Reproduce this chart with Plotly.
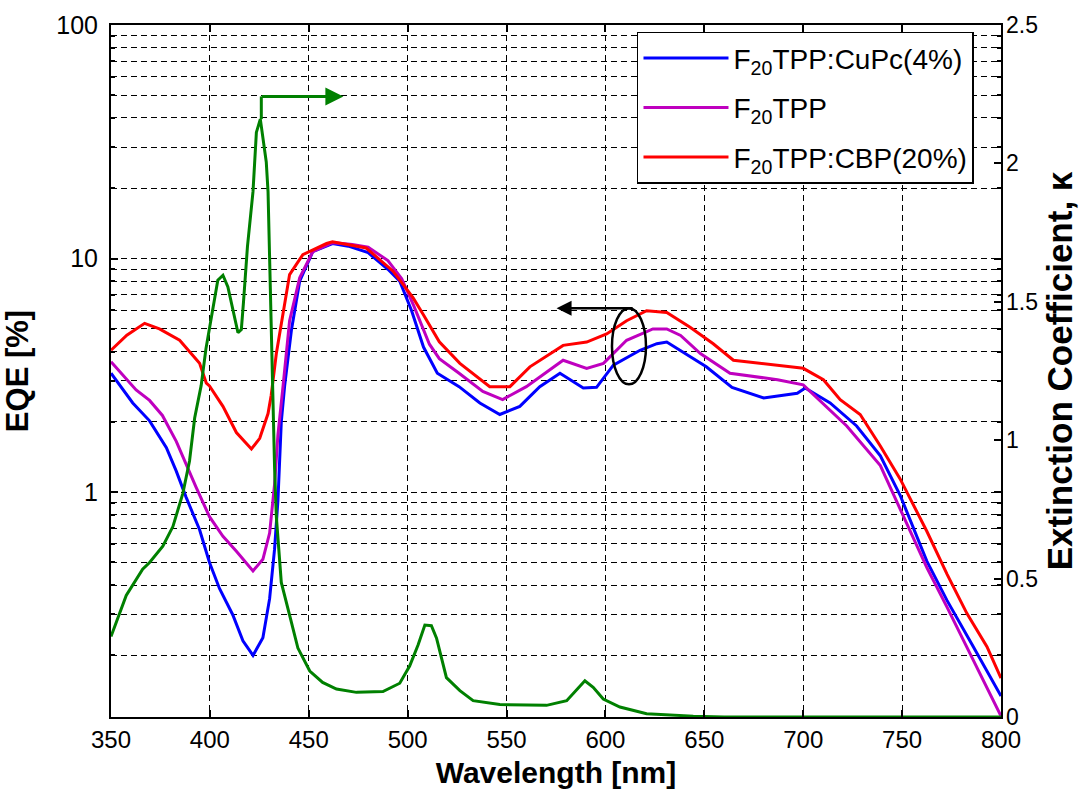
import plotly.graph_objects as go
import numpy as np

# ---------------- data ----------------
wl_cupc = [350, 361, 369.5, 378, 383, 388, 394.8, 399.8, 404.9, 411.6, 416.7, 421.8, 426.8, 430.2,
           432.7, 434.4, 436.1, 437.8, 441.2, 445.4, 452, 462, 470, 480, 490, 496, 502, 508, 515,
           526, 536.5, 546.6, 556.7, 566.8, 577, 588.8, 595.5, 604, 617.5, 626, 631, 637.7, 651,
           664, 680, 697, 701, 713.6, 727, 739, 749, 762.5, 772.7, 786, 800]
eqe_cupc = [3.23, 2.41, 2.02, 1.55, 1.23, 0.95, 0.69, 0.50, 0.386, 0.298, 0.231, 0.20, 0.238, 0.35,
            0.57, 0.92, 2.0, 2.85, 4.92, 8.0, 10.7, 11.6, 11.3, 10.6, 9.0, 8.0, 5.98, 4.18, 3.23,
            2.83, 2.41, 2.15, 2.33, 2.83, 3.23, 2.79, 2.81, 3.5, 4.05, 4.32, 4.39, 4.05, 3.44,
            2.81, 2.53, 2.65, 2.79, 2.41, 1.92, 1.43, 0.97, 0.507, 0.344, 0.218, 0.134]

wl_neat = [350, 362.7, 369.5, 376, 383, 388, 393, 399.8, 406.6, 413.4, 421.8, 426.8, 430.2, 432.7,
           434.4, 437, 440.3, 445.4, 452, 462, 472, 480, 490, 497, 503, 511, 516, 526, 538, 548,
           560, 578.6, 590.5, 599, 610.7, 624, 631, 638, 648, 663, 687, 700, 722, 739, 762.5,
           772.7, 786, 800]
eqe_neat = [3.62, 2.74, 2.47, 2.13, 1.65, 1.31, 1.05, 0.785, 0.647, 0.558, 0.46, 0.516, 0.668, 1.08,
            1.76, 2.85, 5.42, 8.27, 10.7, 11.7, 11.5, 11.2, 9.8, 8.2, 6.3, 4.3, 3.73, 3.23, 2.70, 2.49,
            2.83, 3.67, 3.39, 3.56, 4.47, 5.0, 5.0, 4.69, 3.92, 3.23, 3.03, 2.88, 1.92, 1.30, 0.475,
            0.322, 0.191, 0.110]

wl_cbp = [350, 358, 367, 374.5, 384.7, 394.8, 398.2, 399.8, 406.6, 413.4, 421, 425.2, 429.4, 431,
          433.6, 437, 440.3, 447, 459, 462, 479, 492.6, 502.7, 507.8, 516, 526.4, 541.5, 551.7,
          561.8, 578.6, 590.5, 600.6, 610.7, 620.8, 631, 642.8, 654.5, 664.7, 678.2, 700, 710.2,
          718.7, 728.8, 738.9, 749, 762.5, 772.7, 782.8, 792.9, 800]
eqe_cbp = [4.05, 4.7, 5.28, 5.0, 4.47, 3.56, 2.93, 2.85, 2.33, 1.8, 1.53, 1.70, 2.17, 2.6,
           3.92, 5.78, 8.54, 10.4, 11.6, 11.8, 11.1, 8.83, 6.8, 5.78, 4.4, 3.56, 2.83, 2.83,
           3.44, 4.25, 4.39, 4.76, 5.42, 5.98, 5.88, 5.08, 4.32, 3.67, 3.56, 3.39, 3.03,
           2.49, 2.15, 1.58, 1.14, 0.68, 0.446, 0.302, 0.218, 0.16]

wl_k = [350, 357.7, 366, 369.5, 376.2, 381.3, 386.3, 389.7, 392.3, 395.6, 398, 400.7, 404, 406.6,
        409.1, 414.2, 415.9, 417, 419, 421.8, 423.5, 425.5, 428.5, 429.4, 430.2, 431, 432, 432.7,
        433.6, 436.1, 440.3, 444.5, 450.5, 457, 464, 474.1, 487.5, 496, 501, 505.3, 508.7, 512,
        514.6, 519.6, 526.4, 533.1, 546.6, 570.2, 580.4, 589.6, 593.8, 598.9, 607.3, 620.8,
        644.4, 660, 800]
kappa = [0.291, 0.439, 0.534, 0.558, 0.617, 0.688, 0.807, 0.925, 1.08, 1.198, 1.33, 1.436, 1.578, 1.596,
         1.554, 1.388, 1.40, 1.5, 1.70, 1.898, 2.112, 2.16, 2.005, 1.898, 1.649, 1.447, 1.139, 0.902,
         0.724, 0.486, 0.368, 0.249, 0.166, 0.125, 0.101, 0.089, 0.092, 0.122, 0.184, 0.261, 0.332, 0.33,
         0.285, 0.142, 0.095, 0.059, 0.045, 0.042, 0.059, 0.131, 0.107, 0.065, 0.036, 0.012,
         0.003, 0.0, 0.0]

names = ["F<sub>20</sub>TPP:CuPc(4%)", "F<sub>20</sub>TPP", "F<sub>20</sub>TPP:CBP(20%)"]
colors = ["#0000FF", "#BF00BF", "#FF0000"]
green = "#008000"

x_ticks = list(range(350, 801, 50))
k_ticks = [0, 0.5, 1, 1.5, 2, 2.5]
k_ticklabels = ["0", "0.5", "1", "1.5", "2", "2.5"]

# ---------------- figure ----------------
fig = go.Figure()
for i, (wl, v) in enumerate([(wl_cupc, eqe_cupc), (wl_neat, eqe_neat), (wl_cbp, eqe_cbp)]):
    fig.add_trace(go.Scatter(x=wl, y=v, mode="lines", name=names[i], legendgroup=str(i),
                             line=dict(color=colors[i], width=3)))
fig.add_trace(go.Scatter(x=wl_k, y=kappa, mode="lines", yaxis="y2", showlegend=False,
                         line=dict(color=green, width=3)))

regular = "Liberation Sans, Arial, sans-serif"
grid_dash = "6px,4px"

fig.update_layout(
    width=1091, height=801,
    margin=dict(l=111, r=90, t=14, b=84),
    paper_bgcolor="white", plot_bgcolor="white",
    showlegend=True,
    legend=dict(x=0.591, y=0.99, xanchor="left", yanchor="top",
                bgcolor="white", bordercolor="black", borderwidth=1.5,
                font=dict(family=regular, size=28, color="black"),
                tracegroupgap=10, itemwidth=85),
    xaxis=dict(range=[350, 800], tickvals=x_ticks, ticks="inside", ticklen=7, tickwidth=1.5,
               tickcolor="black", mirror="ticks", showline=True, linecolor="black", linewidth=2,
               showgrid=True, gridcolor="black", gridwidth=1, griddash=grid_dash,
               tickfont=dict(family=regular, size=24, color="black"),
               title=dict(text="<b>Wavelength [nm]</b>", standoff=10,
                          font=dict(family=regular, size=30, color="black")),
               zeroline=False),
    yaxis=dict(type="log", range=[np.log10(0.109), 2], ticks="inside", ticklen=7,
               tickwidth=1.5, tickcolor="black", mirror="ticks", showline=True, linecolor="black",
               linewidth=2, showgrid=True, gridcolor="black", gridwidth=1, griddash=grid_dash,
               tickvals=[1, 10, 100], ticktext=["1", "10", "100"], ticklabelstandoff=6,
               minor=dict(tickvals=[0.2, 0.3, 0.4, 0.5, 0.6, 0.7, 0.8, 0.9,
                                    2, 3, 4, 5, 6, 7, 8, 9, 20, 30, 40, 50, 60, 70, 80, 90],
                          ticks="inside", ticklen=4, tickcolor="black", showgrid=True,
                          gridcolor="black", gridwidth=1, griddash=grid_dash),
               tickfont=dict(family=regular, size=25, color="black"),
               title=dict(text="<b>EQE [%]</b>", standoff=22,
                          font=dict(family=regular, size=31, color="black")),
               zeroline=False),
    yaxis2=dict(overlaying="y", side="right", range=[0, 2.5], tickvals=k_ticks,
                ticktext=k_ticklabels, ticks="inside", ticklen=7, tickwidth=1.5, tickcolor="black",
                showgrid=False, showline=False, zeroline=False, ticklabelstandoff=4,
                tickfont=dict(family=regular, size=23, color="black"),
                title=dict(text="<b>Extinction Coefficient, κ</b>", standoff=10,
                           font=dict(family=regular, size=35, color="black"))),
)

# annotations: arrows and ellipse
fig.add_annotation(x=575.3, y=1.477, xref="x", yref="y2", ax=614.5, ay=1.477,
                   axref="x", ayref="y2", showarrow=True, arrowhead=2, arrowsize=1.2,
                   arrowwidth=2.5, arrowcolor="black", text="")
fig.add_shape(type="circle", xref="x", yref="y2", x0=603.3, x1=620.5, y0=1.202, y1=1.477,
              line=dict(color="black", width=2.5))
fig.add_shape(type="line", xref="x", yref="y2", x0=426, x1=426, y0=2.16, y1=2.242,
              line=dict(color=green, width=3))
fig.add_annotation(x=467.5, y=2.242, xref="x", yref="y2", ax=425.5, ay=2.242,
                   axref="x", ayref="y2", showarrow=True, arrowhead=2, arrowsize=1.2,
                   arrowwidth=3, arrowcolor=green, text="")

fig.write_html("out.html")
